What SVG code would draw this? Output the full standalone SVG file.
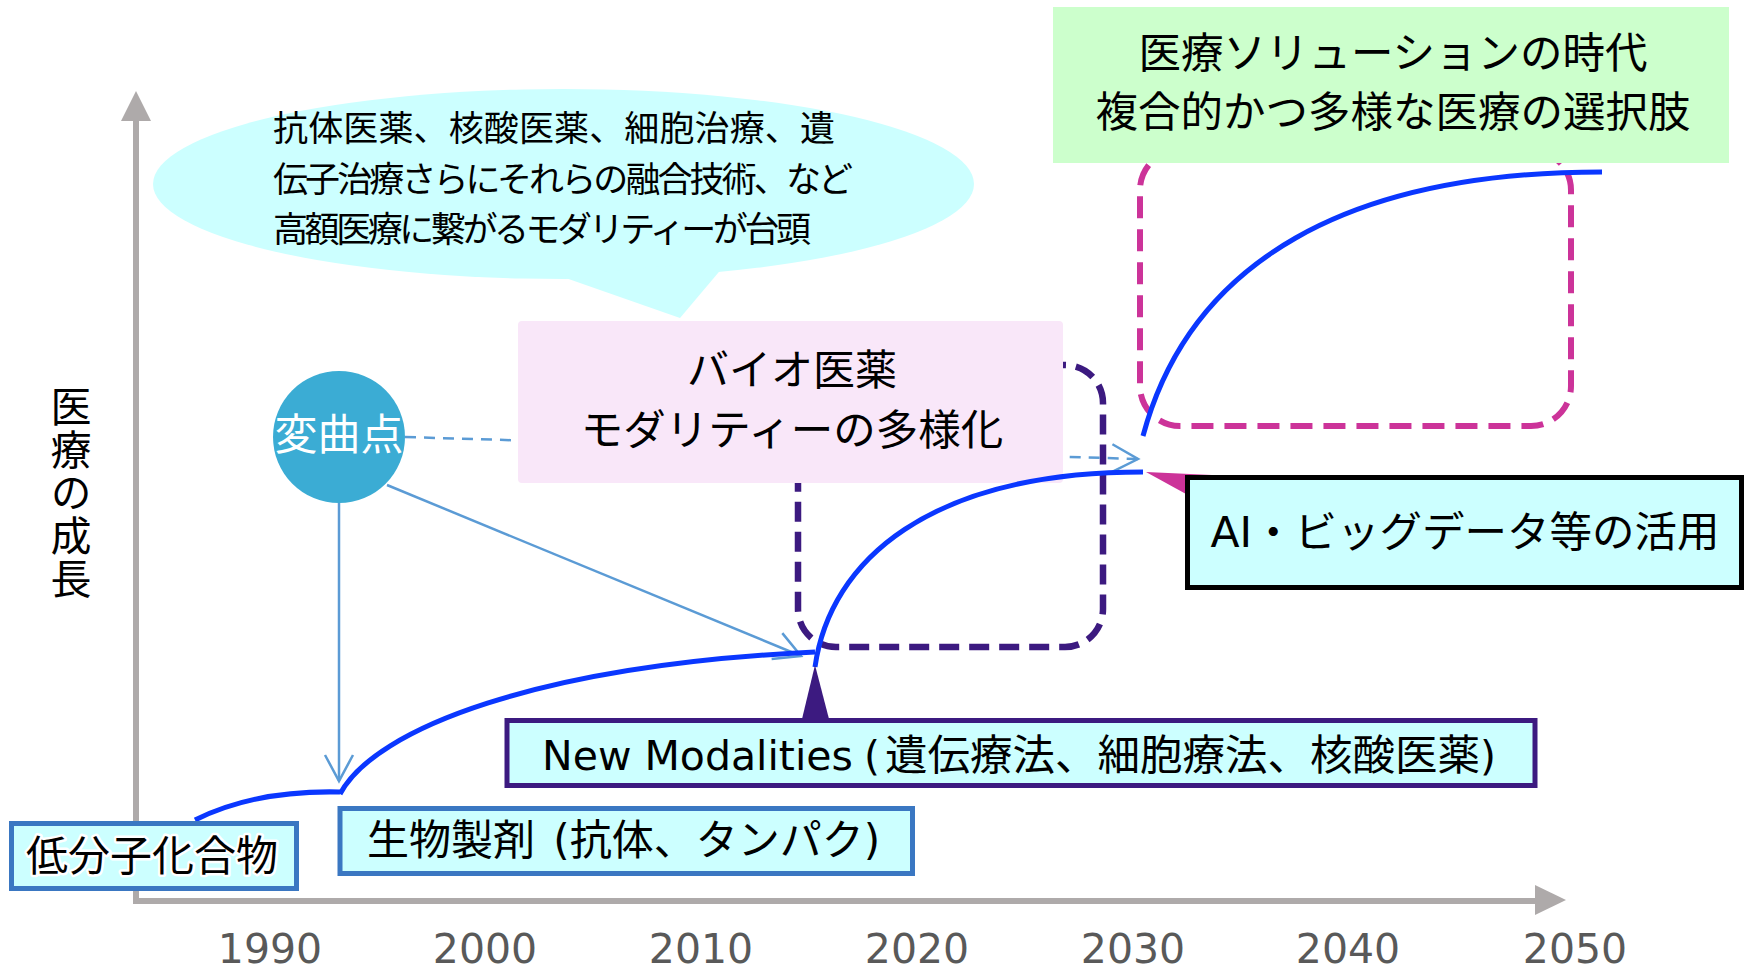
<svg xmlns="http://www.w3.org/2000/svg" width="1749" height="970" viewBox="0 0 1749 970">
  <style>
    .jp { font-family: "Noto Sans CJK JP", sans-serif; fill: #000; }
    .mix { font-family: "DejaVu Sans", "Noto Sans CJK JP", sans-serif; fill: #000; }
    .year { font-family: "DejaVu Sans", sans-serif; font-size: 41px; fill: #595959; text-anchor: middle; }
    .axis { stroke: #AEAAAA; stroke-width: 6; fill: none; }
    .axishead { fill: #AEAAAA; }
    .curve { stroke: #0A37FF; stroke-width: 5; fill: none; stroke-linecap: butt; }
    .conn { stroke: #5B9BD5; stroke-width: 2.5; fill: none; }
    .cyanbox { fill: #CCFFFF; stroke-width: 5; }
  </style>
  <defs>
    <marker id="openArrow" markerUnits="userSpaceOnUse" viewBox="0 0 30 36" markerWidth="30" markerHeight="36" refX="27" refY="18" orient="auto">
      <path d="M1,4 L27,18 L1,32" fill="none" stroke="#5B9BD5" stroke-width="2.5" stroke-dasharray="none"/>
    </marker>
  </defs>

  <rect x="0" y="0" width="1749" height="970" fill="#FFFFFF"/>

  <!-- axes -->
  <g id="axes">
    <line class="axis" x1="136" y1="118" x2="136" y2="904"/>
    <polygon class="axishead" points="136,91 151,121 121,121"/>
    <line class="axis" x1="133" y1="901" x2="1538" y2="901"/>
    <polygon class="axishead" points="1566,900 1535,885 1535,915"/>
    <text class="jp" font-size="41" x="71" y="386" style="writing-mode: vertical-rl; letter-spacing: 2px;">医療の成長</text>
    <text class="year" x="270" y="963">1990</text>
    <text class="year" x="485" y="963">2000</text>
    <text class="year" x="701" y="963">2010</text>
    <text class="year" x="917" y="963">2020</text>
    <text class="year" x="1133" y="963">2030</text>
    <text class="year" x="1348" y="963">2040</text>
    <text class="year" x="1575" y="963">2050</text>
  </g>

  <!-- speech bubble -->
  <g id="bubble">
    <ellipse cx="563.5" cy="184" rx="410.5" ry="95" fill="#CCFFFF"/>
    <polygon points="560,276 680,318 729,260" fill="#CCFFFF"/>
    <text class="jp" font-size="35" x="273" y="141" textLength="562" lengthAdjust="spacing">抗体医薬、核酸医薬、細胞治療、遺</text>
    <text class="jp" font-size="35" x="273" y="192" textLength="580" lengthAdjust="spacing">伝子治療さらにそれらの融合技術、など</text>
    <text class="jp" font-size="35" x="273" y="242" textLength="538" lengthAdjust="spacing">高額医療に繋がるモダリティーが台頭</text>
  </g>

  <!-- dashed regions -->
  <g id="region-biomodality">
    <rect x="798" y="365" width="305" height="282" rx="38" ry="38" fill="none" stroke="#3C1A80" stroke-width="6.5" stroke-dasharray="20 10"/>
  </g>
  <g id="region-solution">
    <rect x="1140" y="150" width="431" height="276" rx="40" ry="40" fill="none" stroke="#CC3399" stroke-width="6" stroke-dasharray="22 11"/>
  </g>

  <!-- connectors -->
  <g id="connectors">
    <line class="conn" x1="405" y1="437" x2="1138" y2="459" stroke-dasharray="11 8" marker-end="url(#openArrow)"/>
    <line class="conn" x1="339" y1="503" x2="339" y2="781" marker-end="url(#openArrow)"/>
    <line class="conn" x1="387" y1="485" x2="801" y2="656" marker-end="url(#openArrow)"/>
  </g>

  <!-- inflection point circle -->
  <g id="node-inflection">
    <circle cx="339" cy="437" r="66" fill="#3BACD4"/>
    <text class="jp" font-size="43" x="339" y="450" text-anchor="middle" style="fill:#FFFFFF">変曲点</text>
  </g>

  <!-- bio pharma box -->
  <g id="node-bio">
    <rect x="518" y="321" width="545" height="162" rx="4" ry="4" fill="#F9E7F9"/>
    <text class="jp" font-size="42" x="792" y="385" text-anchor="middle">バイオ医薬</text>
    <text class="jp" font-size="42.5" x="792" y="445" text-anchor="middle">モダリティーの多様化</text>
  </g>

  <!-- solution era box -->
  <g id="node-solution">
    <rect x="1053" y="7" width="676" height="156" fill="#CCFFCC"/>
    <text class="jp" font-size="42.5" x="1393" y="68" text-anchor="middle">医療ソリューションの時代</text>
    <text class="jp" font-size="42.5" x="1393" y="127" text-anchor="middle">複合的かつ多様な医療の選択肢</text>
  </g>

  <!-- growth curves -->
  <g id="curves">
    <path class="curve" d="M195,820 Q255,790 340,792"/>
    <path class="curve" d="M340,794 C375,728 540,665 815,652"/>
    <path class="curve" d="M815,667 C830,560 930,472 1143,472"/>
    <path class="curve" d="M1143,436 C1190,260 1350,172 1602,172"/>
  </g>

  <!-- callout pointers -->
  <g id="pointers">
    <polygon points="815,665 802,719 829,719" fill="#3C1A80"/>
    <polygon points="1146,472 1212,475 1186,494" fill="#CC3399"/>
  </g>

  <!-- label boxes -->
  <g id="node-ai">
    <rect class="cyanbox" x="1187.5" y="477.5" width="554" height="110" stroke="#000000"/>
    <text class="mix" font-size="42.5" x="1465" y="547" text-anchor="middle">AI・ビッグデータ等の活用</text>
  </g>

  <g id="node-newmodalities">
    <rect class="cyanbox" x="507" y="720.5" width="1028" height="65" stroke="#3C1A80"/>
    <text class="mix" font-size="42.5" x="542" y="770"><tspan font-size="41">New Modalities</tspan><tspan x="864" font-size="41">(</tspan><tspan x="885">遺伝療法、細胞療法、核酸医薬</tspan><tspan font-size="41">)</tspan></text>
  </g>

  <g id="node-biologics">
    <rect class="cyanbox" x="340" y="808.5" width="572.5" height="65" stroke="#3A77C2"/>
    <text class="mix" font-size="42" x="367" y="855">生物製剤<tspan dx="5"> (抗体、タンパク)</tspan></text>
  </g>

  <g id="node-smallmolecule">
    <rect class="cyanbox" x="11.5" y="823.5" width="285" height="65" stroke="#3A77C2"/>
    <text class="jp" font-size="42" x="26" y="871" stroke="#FFFFFF" stroke-width="5" stroke-linejoin="round" paint-order="stroke">低分子化合物</text>
  </g>
</svg>
